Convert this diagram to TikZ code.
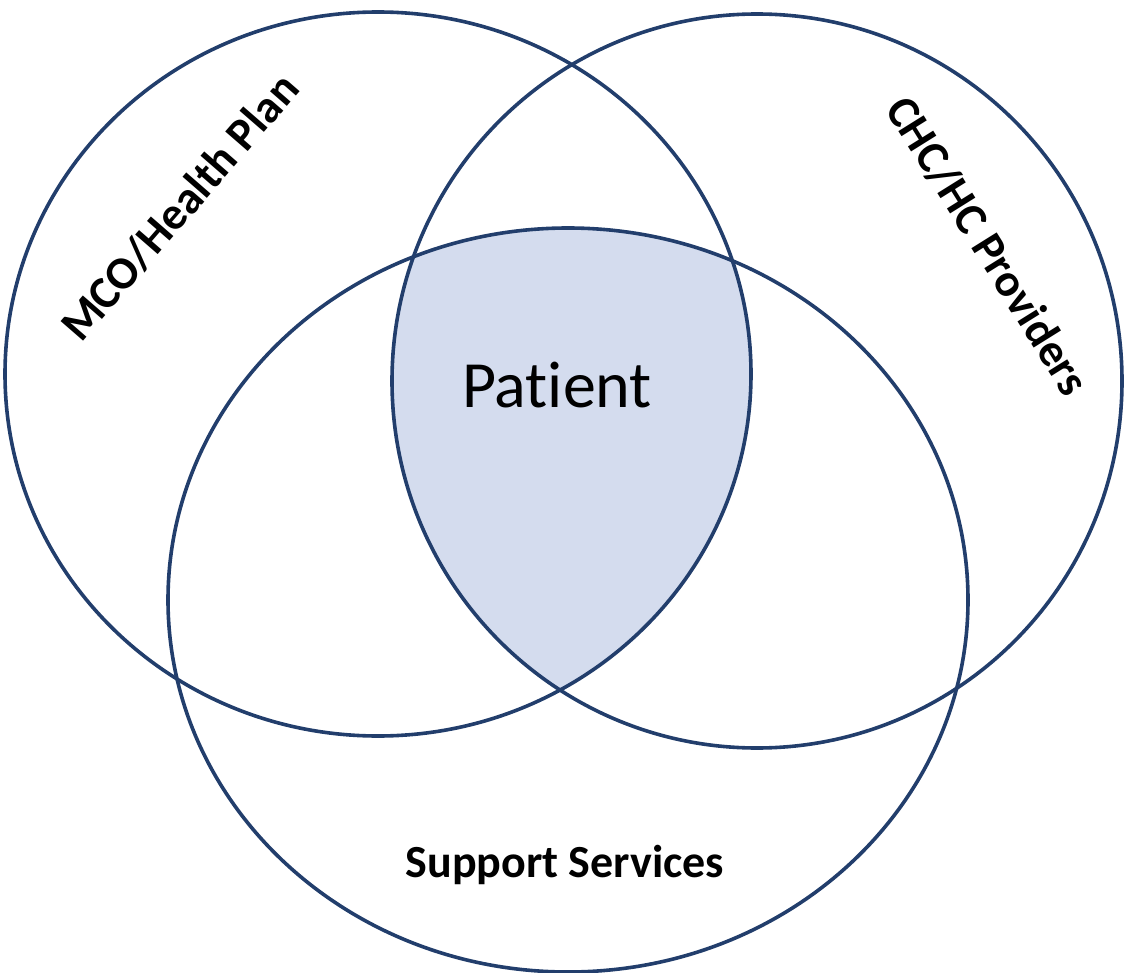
\documentclass[tikz,border=0pt]{standalone}
\usepackage{fontspec}
\setmainfont[Ligatures=NoCommon]{Carlito}
\usepackage{tikz}

\definecolor{vennline}{RGB}{34,62,108}
\definecolor{vennfill}{RGB}{212,220,238}

\begin{document}
\begin{tikzpicture}[x=0.5pt,y=-0.5pt,
set/.style={draw=vennline,line width=1.8pt},
setlabel/.style={font=\fontsize{23}{28}\selectfont\bfseries}]
\tikzstyle{every node}=[inner sep=0pt,text=black]
\useasboundingbox (0,0) rectangle (1124,973);
\coordinate (mco) at (378,374);
\coordinate (chc) at (757,381);
\coordinate (sup) at (568,600);
% shaded middle part
\begin{scope}
	\clip (mco) ellipse [x radius=373, y radius=362];
	\clip (chc) ellipse [x radius=365, y radius=367];
	\fill[vennfill] (sup) ellipse [x radius=400, y radius=372];
\end{scope}
\draw[set] (mco) ellipse [x radius=373, y radius=362];
\draw[set] (chc) ellipse [x radius=365, y radius=367];
\draw[set] (sup) ellipse [x radius=400, y radius=372];
\node[setlabel,rotate=49] (mcolabel) at (180,207) {MCO/Health Plan};
\node[setlabel,rotate=-58] (chclabel) at (988,246) {CHC/HC Providers};
\node[setlabel] (suplabel) at (565,865) {Support Services};
\node[font=\fontsize{33}{40}\selectfont] (patient) at (557,385) {Patient};
\end{tikzpicture}
\end{document}
